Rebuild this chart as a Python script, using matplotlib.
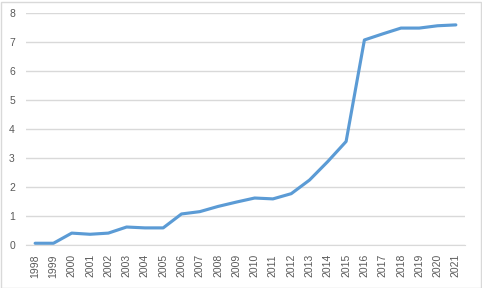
import matplotlib.pyplot as plt
from matplotlib.patches import Rectangle

years = [str(y) for y in range(1998, 2022)]
values = [0.06, 0.06, 0.41, 0.37, 0.41, 0.62, 0.59, 0.59, 1.07, 1.15, 1.33, 1.48,
          1.62, 1.59, 1.77, 2.24, 2.88, 3.57, 7.07, 7.28, 7.48, 7.48, 7.56, 7.59]

plt.rcParams['font.family'] = ['Liberation Sans', 'DejaVu Sans']

fig = plt.figure(figsize=(4.82, 2.88), dpi=100)
ax = fig.add_axes([26 / 482, 1 - 245 / 288, 439 / 482, 232 / 288])

x = list(range(len(years)))
ax.plot(x, values, color='#5B9BD5', linewidth=2.25, solid_capstyle='round')

ax.set_xlim(-0.5, len(years) - 0.5)
ax.set_ylim(0, 8)
ax.set_yticks(range(0, 9))
ax.set_xticks(x)
ax.set_xticklabels(years, rotation=90)
ax.tick_params(axis='both', length=0, labelsize=7.5, labelcolor='#595959')
ax.tick_params(axis='x', pad=6.5)
ax.tick_params(axis='y', pad=8)

ax.grid(axis='y', color='#D9D9D9', linewidth=1)
ax.set_axisbelow(True)
for side in ['top', 'right', 'left']:
    ax.spines[side].set_visible(False)
ax.spines['bottom'].set_color('#D9D9D9')

fig.patches.append(Rectangle((0.5 / 482, 0.5 / 288), 480 / 482, 286 / 288,
                             transform=fig.transFigure, fill=False,
                             edgecolor='#D9D9D9', linewidth=1))

fig.savefig('out.png', dpi=100)
